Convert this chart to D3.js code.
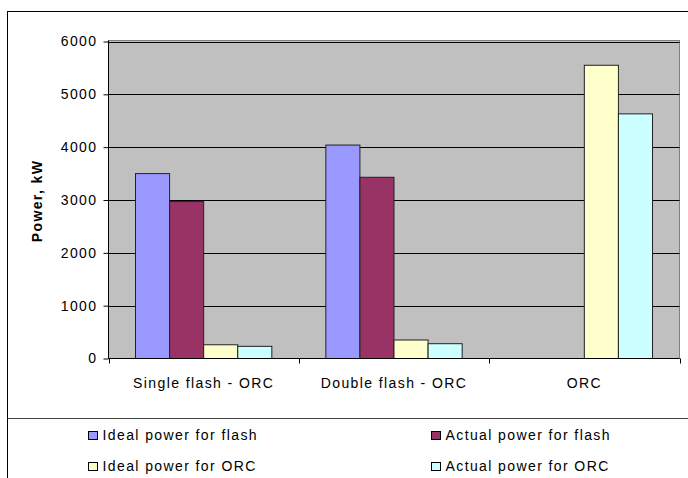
<!DOCTYPE html>
<html>
<head>
<meta charset="utf-8">
<script src="https://cdn.jsdelivr.net/npm/d3@7/dist/d3.min.js"></script>
<style>
  html, body { margin: 0; padding: 0; background: #fff; }
  svg { display: block; font-family: "Liberation Sans", Arial, sans-serif; }
  text { letter-spacing: 1.4px; }
</style>
</head>
<body>
<svg id="chart" width="688" height="478"></svg>
<script>
// Plant configurations on the x axis
const categories = ["Single flash - ORC", "Double flash - ORC", "ORC"];

// Series (kW)
const seriesNames = [
  "Ideal power for flash",
  "Actual power for flash",
  "Ideal power for ORC",
  "Actual power for ORC"
];
const idealFlash  = [3500, 4040, 0];
const actualFlash = [2970, 3430, 0];
const idealORC    = [260, 350, 5550];
const actualORC   = [230, 280, 4630];

const yTicks = [0, 1000, 2000, 3000, 4000, 5000, 6000];
const yTitle = "Power, kW";

const seriesValues = [idealFlash, actualFlash, idealORC, actualORC];
const colors = ["#9999FF", "#993366", "#FFFFCC", "#CCFFFF"];

const svg = d3.select("#chart");

// Chart area frame (runs off the right and bottom edges)
svg.append("rect")
  .attr("x", 7.5).attr("y", 11.5)
  .attr("width", 700).attr("height", 500)
  .attr("fill", "#fff").attr("stroke", "#000").attr("stroke-width", 1);

const plot = { left: 108.5, right: 679.5, top: 41.5, bottom: 358.5 };

const x = d3.scaleBand()
  .domain(categories)
  .range([plot.left, plot.right])
  .paddingInner(0.2837)
  .paddingOuter(0.2837 / 2);

const xs = d3.scaleBand()
  .domain(seriesNames)
  .range([0, x.bandwidth()]);

const y = d3.scaleLinear()
  .domain([0, 6000])
  .range([plot.bottom, plot.top]);

// Plot background
svg.append("rect")
  .attr("x", plot.left).attr("y", y(6000) - 1)
  .attr("width", plot.right - plot.left)
  .attr("height", plot.bottom - y(6000) + 1)
  .attr("fill", "#C0C0C0")
  .attr("stroke", "#808080").attr("stroke-width", 1);

// Horizontal gridlines
svg.append("g")
  .selectAll("line")
  .data(yTicks.filter(d => d > 0))
  .join("line")
  .attr("x1", plot.left).attr("x2", plot.right)
  .attr("y1", d => Math.round(y(d)) + 0.5)
  .attr("y2", d => Math.round(y(d)) + 0.5)
  .attr("stroke", "#000").attr("stroke-width", 1);

// Bars
const groups = svg.append("g")
  .selectAll("g")
  .data(categories)
  .join("g")
  .attr("transform", d => `translate(${x(d)},0)`);

groups.selectAll("rect")
  .data((c, i) => seriesNames.map((s, k) => ({ s, k, v: seriesValues[k][i] })))
  .join("rect")
  .filter(d => d.v > 0)
  .attr("x", d => xs(d.s))
  .attr("y", d => y(d.v))
  .attr("width", xs.bandwidth())
  .attr("height", d => y(0) - y(d.v))
  .attr("fill", d => colors[d.k])
  .attr("stroke", "#222").attr("stroke-width", 1);

// Y axis
const yAxis = d3.axisLeft(y)
  .tickValues(yTicks)
  .tickSize(5)
  .tickPadding(6)
  .tickFormat(d3.format("d"));

const gy = svg.append("g")
  .attr("transform", `translate(${plot.left},0)`)
  .call(yAxis);
gy.select(".domain").attr("stroke", "#000").attr("d", `M0,${plot.top - 1}V${plot.bottom}`);
gy.selectAll(".tick line").attr("stroke", "#000");
gy.selectAll(".tick text")
  .attr("fill", "#000")
  .style("font-size", "14px")
  .style("font-family", "'Liberation Sans', Arial, sans-serif");

// X axis: baseline with ticks at category boundaries
const boundaries = categories.map(c => x(c) - x.step() * x.paddingInner() / 2)
  .concat([plot.right]);
svg.append("line")
  .attr("x1", plot.left).attr("x2", plot.right)
  .attr("y1", plot.bottom).attr("y2", plot.bottom)
  .attr("stroke", "#000");
svg.append("g")
  .selectAll("line")
  .data(boundaries)
  .join("line")
  .attr("x1", d => Math.round(d) + 0.5).attr("x2", d => Math.round(d) + 0.5)
  .attr("y1", plot.bottom).attr("y2", plot.bottom + 5)
  .attr("stroke", "#000");

svg.append("g")
  .selectAll("text")
  .data(categories)
  .join("text")
  .attr("x", d => x(d) + x.bandwidth() / 2)
  .attr("y", 388)
  .attr("text-anchor", "middle")
  .style("font-size", "14px")
  .text(d => d);

// Y axis title
svg.append("text")
  .attr("transform", `translate(42,${(plot.top + plot.bottom) / 2 + 1}) rotate(-90)`)
  .attr("text-anchor", "middle")
  .style("font-size", "14px")
  .style("font-weight", "bold")
  .text(yTitle);

// Legend
svg.append("line")
  .attr("x1", 7.5).attr("x2", 688)
  .attr("y1", 418.5).attr("y2", 418.5)
  .attr("stroke", "#444").attr("stroke-width", 1);

const legendPos = [
  { mx: 88.5, my: 431.5 },
  { mx: 431.5, my: 431.5 },
  { mx: 88.5, my: 462.5 },
  { mx: 431.5, my: 462.5 }
];

const legend = svg.append("g")
  .selectAll("g")
  .data(seriesNames)
  .join("g")
  .attr("transform", (d, i) => `translate(${legendPos[i].mx},${legendPos[i].my})`);

legend.append("rect")
  .attr("width", 9).attr("height", 8)
  .attr("fill", (d, i) => colors[i])
  .attr("stroke", "#000").attr("stroke-width", 1);

legend.append("text")
  .attr("x", 14).attr("y", 8)
  .style("font-size", "14px")
  .text(d => d);
</script>
</body>
</html>
